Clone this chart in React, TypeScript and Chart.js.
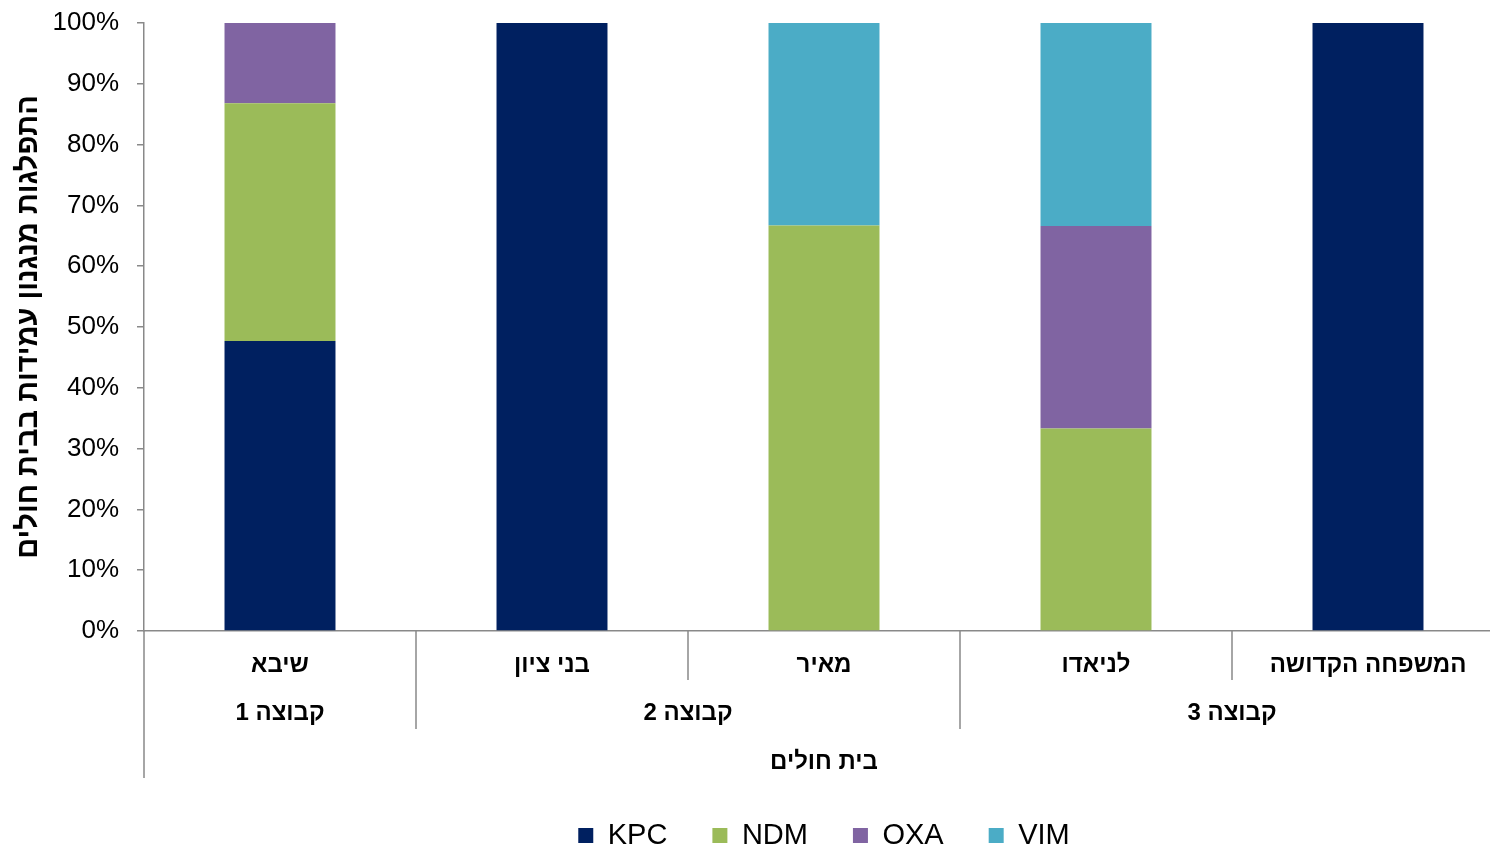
import React, { useEffect, useRef } from 'react';
import { Chart, registerables } from 'chart.js';

Chart.register(...registerables);

const hospitals = ['שיבא', 'בני ציון', 'מאיר', 'לניאדו', 'המשפחה הקדושה'];
const groupLabels = ['קבוצה 1', 'קבוצה 2', 'קבוצה 3'];
const groupSizes = [1, 2, 2];
const xAxisTitle = 'בית חולים';
const yAxisTitle = 'התפלגות מנגנון עמידות בבית חולים';

const kpc = [47.7, 100, 0, 0, 100];
const ndm = [39.1, 0, 66.7, 33.3, 0];
const oxa = [13.2, 0, 0, 33.3, 0];
const vim = [0, 0, 33.3, 33.4, 0];

const FONT = '"Liberation Sans", Arial, "DejaVu Sans", sans-serif';
const AXIS_GRAY = '#898989';

const multiLevelPlugin = {
  id: 'multiLevel',
  afterDraw(chart: any) {
    const { ctx, chartArea: area } = chart;
    const n = hospitals.length;
    const w = (area.right - area.left) / n;
    const b = area.bottom;
    ctx.save();
    ctx.strokeStyle = AXIS_GRAY;
    ctx.lineWidth = 1.5;
    ctx.beginPath();
    ctx.moveTo(area.left, b);
    ctx.lineTo(area.left, b + 147);
    ctx.stroke();
    const groupEnds: number[] = [];
    let acc = 0;
    groupSizes.forEach((s) => {
      acc += s;
      groupEnds.push(acc);
    });
    for (let i = 1; i < n; i++) {
      const bx = area.left + w * i;
      const len = groupEnds.includes(i) ? 98 : 49;
      ctx.beginPath();
      ctx.moveTo(bx, b);
      ctx.lineTo(bx, b + len);
      ctx.stroke();
    }
    ctx.fillStyle = '#000';
    ctx.direction = 'rtl';
    ctx.textAlign = 'center';
    ctx.textBaseline = 'middle';
    ctx.font = `bold 24px ${FONT}`;
    hospitals.forEach((h, i) => {
      ctx.fillText(h, area.left + w * (i + 0.5), b + 34);
    });
    let start = 0;
    groupLabels.forEach((g, gi) => {
      const s = groupSizes[gi];
      const cx = area.left + w * (start + s / 2);
      ctx.fillText(g, cx, b + 82);
      start += s;
    });
    ctx.fillText(xAxisTitle, (area.left + area.right) / 2, b + 131);
    ctx.font = `bold 29px ${FONT}`;
    ctx.translate(29, (area.top + area.bottom) / 2);
    ctx.rotate(-Math.PI / 2);
    ctx.fillText(yAxisTitle, 0, 0);
    ctx.restore();
  },
};

export default function App() {
  const ref = useRef<HTMLCanvasElement>(null);

  useEffect(() => {
    document.body.style.margin = '0';
    const canvas = ref.current!;
    const chart = new Chart(canvas, {
      type: 'bar',
      data: {
        labels: hospitals,
        datasets: [
          { label: 'KPC', data: kpc, backgroundColor: '#002060' },
          { label: 'NDM', data: ndm, backgroundColor: '#9BBB59' },
          { label: 'OXA', data: oxa, backgroundColor: '#8064A2' },
          { label: 'VIM', data: vim, backgroundColor: '#4BACC6' },
        ],
      },
      options: {
        responsive: false,
        animation: false,
        devicePixelRatio: 1,
        layout: { padding: { left: 0, right: 6, top: 23, bottom: 0 } },
        datasets: {
          bar: { categoryPercentage: 1, barPercentage: 0.408 },
        },
        plugins: {
          tooltip: { enabled: false },
          title: { display: false },
          legend: {
            display: true,
            position: 'bottom',
            fullSize: false,
            labels: {
              boxWidth: 15,
              boxHeight: 15,
              padding: 45,
              color: '#000',
              font: { family: FONT, size: 29 },
            },
          },
        },
        scales: {
          x: {
            stacked: true,
            grid: { display: false },
            border: { display: true, color: AXIS_GRAY, width: 1.5 },
            ticks: { display: false },
            afterFit: (scale: any) => {
              scale.height = 145;
              scale.paddingLeft = 0;
              scale.paddingRight = 0;
            },
          },
          y: {
            stacked: true,
            min: 0,
            max: 100,
            grid: {
              display: true,
              drawOnChartArea: false,
              drawTicks: true,
              tickLength: 7,
              color: AXIS_GRAY,
              lineWidth: 1.5,
            },
            border: { display: true, color: AXIS_GRAY, width: 1.5 },
            ticks: {
              stepSize: 10,
              padding: 18,
              color: '#000',
              font: { family: FONT, size: 26 },
              callback: (v: any) => `${v}%`,
            },
            afterFit: (scale: any) => {
              scale.width = 144;
              scale.paddingTop = 0;
              scale.paddingBottom = 0;
            },
          },
        },
      },
      plugins: [multiLevelPlugin],
    });
    return () => chart.destroy();
  }, []);

  return (
    <div
      style={{
        position: 'fixed',
        left: 0,
        top: 0,
        width: 1490,
        height: 847,
        overflow: 'hidden',
        background: '#fff',
      }}
    >
      <canvas ref={ref} width={1510} height={860} style={{ display: 'block', width: 1510, height: 860 }} />
    </div>
  );
}
